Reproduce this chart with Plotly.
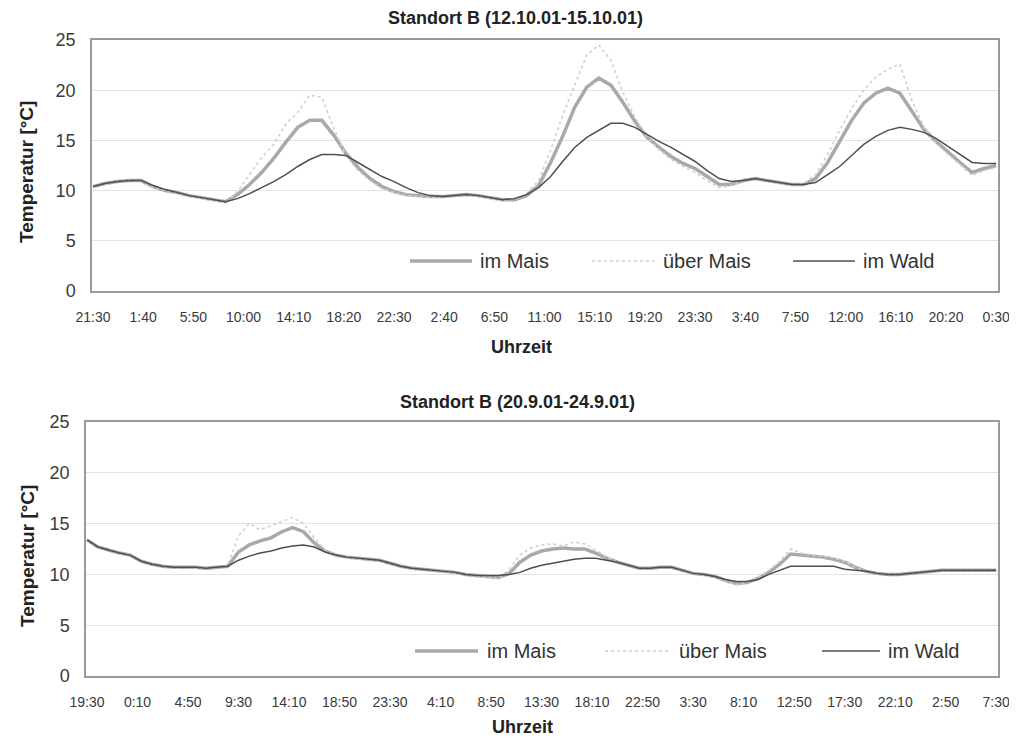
import plotly.graph_objects as go

# ---------------- data ----------------
# sampling: one value per hour (minutes since start of record)
top_minutes = [h * 60 for h in range(76)]
bot_minutes = [h * 60 for h in range(85)]

top_tick_minutes = [i * 250 for i in range(19)]
top_tick_labels = ["21:30", "1:40", "5:50", "10:00", "14:10", "18:20", "22:30", "2:40",
                   "6:50", "11:00", "15:10", "19:20", "23:30", "3:40", "7:50", "12:00",
                   "16:10", "20:20", "0:30"]
bot_tick_minutes = [i * 280 for i in range(19)]
bot_tick_labels = ["19:30", "0:10", "4:50", "9:30", "14:10", "18:50", "23:30", "4:10",
                   "8:50", "13:30", "18:10", "22:50", "3:30", "8:10", "12:50", "17:30",
                   "22:10", "2:50", "7:30"]

series_names = ["im Mais", "über Mais", "im Wald"]

top_im_mais = [10.4, 10.7, 10.9, 11.0, 11.0, 10.4, 10.0, 9.8, 9.5, 9.3,
               9.1, 8.9, 9.6, 10.6, 11.8, 13.2, 14.8, 16.3, 17.0, 17.0,
               15.5, 13.7, 12.3, 11.2, 10.4, 9.9, 9.6, 9.5, 9.4, 9.4,
               9.5, 9.6, 9.5, 9.3, 9.1, 9.1, 9.5, 10.5, 12.8, 15.4,
               18.3, 20.3, 21.2, 20.5, 18.8, 16.9, 15.3, 14.3, 13.4, 12.7,
               12.2, 11.4, 10.6, 10.6, 11.0, 11.2, 11.0, 10.8, 10.6, 10.6,
               11.2, 12.8, 14.9, 17.0, 18.7, 19.7, 20.2, 19.7, 17.9, 16.1,
               14.9, 13.8, 12.8, 11.8, 12.2, 12.5]
top_ueber_mais = [10.3, 10.6, 11.0, 11.1, 10.9, 10.3, 10.0, 9.7, 9.4, 9.2,
                  9.0, 8.8, 9.9, 11.6, 13.3, 14.6, 16.6, 17.8, 19.5, 19.3,
                  16.2, 13.5, 12.0, 11.0, 10.2, 9.8, 9.5, 9.4, 9.3, 9.4,
                  9.5, 9.5, 9.4, 9.2, 9.0, 9.1, 9.7, 11.0, 14.0, 17.5,
                  20.6, 23.5, 24.5, 23.0, 19.8, 17.3, 15.3, 14.1, 13.1, 12.4,
                  11.8, 11.0, 10.3, 10.5, 11.0, 11.3, 11.0, 10.7, 10.5, 10.7,
                  11.6, 13.6, 16.0, 18.2, 20.0, 21.3, 22.1, 22.6, 19.0, 16.3,
                  14.7, 13.6, 12.6, 11.5, 12.0, 12.3]
top_im_wald = [10.4, 10.7, 10.9, 11.0, 11.0, 10.5, 10.1, 9.8, 9.5, 9.3,
               9.1, 8.9, 9.2, 9.7, 10.3, 10.9, 11.6, 12.4, 13.1, 13.6,
               13.6, 13.5, 12.8, 12.1, 11.4, 10.9, 10.3, 9.8, 9.5, 9.4,
               9.5, 9.6, 9.5, 9.3, 9.1, 9.2, 9.6, 10.3, 11.4, 12.9,
               14.3, 15.3, 16.0, 16.7, 16.7, 16.3, 15.6, 14.9, 14.3, 13.6,
               12.9, 12.0, 11.2, 10.9, 11.0, 11.2, 11.0, 10.8, 10.6, 10.6,
               10.8, 11.6, 12.4, 13.5, 14.6, 15.4, 16.0, 16.3, 16.1, 15.8,
               15.2, 14.4, 13.6, 12.8, 12.7, 12.7]

bot_im_mais = [13.4, 12.7, 12.4, 12.1, 11.9, 11.3, 11.0, 10.8, 10.7, 10.7,
               10.7, 10.6, 10.7, 10.8, 12.2, 12.9, 13.3, 13.6, 14.2, 14.6,
               14.2, 13.1, 12.3, 11.9, 11.7, 11.6, 11.5, 11.4, 11.1, 10.8,
               10.6, 10.5, 10.4, 10.3, 10.2, 10.0, 9.9, 9.8, 9.7, 10.1,
               11.2, 11.9, 12.3, 12.5, 12.6, 12.5, 12.5, 12.1, 11.6, 11.2,
               10.9, 10.6, 10.6, 10.7, 10.7, 10.4, 10.1, 10.0, 9.8, 9.4,
               9.1, 9.2, 9.6, 10.2, 11.0, 12.0, 11.9, 11.8, 11.7, 11.5,
               11.2, 10.7, 10.3, 10.1, 10.0, 10.0, 10.1, 10.2, 10.3, 10.4,
               10.4, 10.4, 10.4, 10.4, 10.4]
bot_ueber_mais = [13.3, 12.6, 12.5, 12.0, 12.0, 11.2, 10.9, 10.8, 10.6, 10.7,
                  10.6, 10.6, 10.6, 10.9, 13.8, 15.0, 14.4, 14.8, 15.2, 15.6,
                  15.0, 13.6, 12.4, 11.9, 11.7, 11.5, 11.5, 11.3, 11.0, 10.8,
                  10.5, 10.5, 10.3, 10.3, 10.1, 10.0, 9.8, 9.7, 9.6, 10.5,
                  11.9, 12.6, 12.9, 13.0, 12.8, 13.2, 13.0, 12.4, 11.7, 11.2,
                  10.9, 10.5, 10.6, 10.7, 10.7, 10.3, 10.1, 9.9, 9.7, 9.3,
                  9.0, 9.2, 9.7, 10.4, 11.3, 12.5, 12.1, 11.9, 11.8, 11.6,
                  11.3, 10.7, 10.3, 10.1, 10.0, 10.0, 10.1, 10.2, 10.3, 10.4,
                  10.4, 10.4, 10.5, 10.4, 10.4]
bot_im_wald = [13.4, 12.7, 12.4, 12.1, 11.9, 11.3, 11.0, 10.8, 10.7, 10.7,
               10.7, 10.6, 10.7, 10.8, 11.4, 11.8, 12.1, 12.3, 12.6, 12.8,
               12.9, 12.7, 12.2, 11.9, 11.7, 11.6, 11.5, 11.4, 11.1, 10.8,
               10.6, 10.5, 10.4, 10.3, 10.2, 10.0, 9.9, 9.9, 9.9, 10.0,
               10.2, 10.6, 10.9, 11.1, 11.3, 11.5, 11.6, 11.6, 11.4, 11.2,
               10.9, 10.6, 10.6, 10.7, 10.7, 10.4, 10.1, 10.0, 9.8, 9.5,
               9.3, 9.3, 9.5, 10.0, 10.4, 10.8, 10.8, 10.8, 10.8, 10.8,
               10.5, 10.4, 10.3, 10.1, 10.0, 10.0, 10.1, 10.2, 10.3, 10.4,
               10.4, 10.4, 10.4, 10.4, 10.4]

y_ticks = [0, 5, 10, 15, 20, 25]

# ---------------- styling ----------------
PAGE_OFF = 8            # default body margin of the html page
W, H = 1017 - PAGE_OFF, 742 - PAGE_OFF
FONT = "Liberation Sans, Arial, sans-serif"
styles = {
    "im Mais": dict(color="#a9a9a9", width=3.5, dash="solid"),
    "über Mais": dict(color="#cfcfcf", width=1.6, dash="dot"),
    "im Wald": dict(color="#4f4f4f", width=1.5, dash="solid"),
}

def px(x):
    return (x - PAGE_OFF) / W

def py(y):
    return 1 - (y - PAGE_OFF) / H

fig = go.Figure()

top_series = [top_im_mais, top_ueber_mais, top_im_wald]
bot_series = [bot_im_mais, bot_ueber_mais, bot_im_wald]

for name, vals in zip(series_names, top_series):
    fig.add_trace(go.Scatter(x=top_minutes, y=vals, mode="lines", name=name,
                             line=styles[name], xaxis="x", yaxis="y", showlegend=False))
for name, vals in zip(series_names, bot_series):
    fig.add_trace(go.Scatter(x=bot_minutes, y=vals, mode="lines", name=name,
                             line=styles[name], xaxis="x2", yaxis="y2", showlegend=False))

common_x = dict(showgrid=False, zeroline=False, ticks="", showline=True, linecolor="#9a9a9a",
                linewidth=1.5, mirror=True, tickfont=dict(family=FONT, size=14, color="#3a3a3a"),
                ticklabelstandoff=12, fixedrange=True, automargin=False)
common_y = dict(range=[0, 25], tickvals=y_ticks, showgrid=True, gridcolor="#e2e2e2", gridwidth=1.3,
                zeroline=False, ticks="", showline=True, linecolor="#9a9a9a", linewidth=1.5,
                mirror=True, tickfont=dict(family=FONT, size=18, color="#3a3a3a"),
                ticklabelstandoff=11, fixedrange=True, automargin=False)

fig.update_layout(
    width=W, height=H,
    margin=dict(l=0, r=0, t=0, b=0, autoexpand=False),
    paper_bgcolor="white", plot_bgcolor="white",
    showlegend=False,
    xaxis=dict(common_x, domain=[px(92), px(998)], range=[-5, 4509],
               tickvals=top_tick_minutes, ticktext=top_tick_labels, anchor="y"),
    yaxis=dict(common_y, domain=[py(291), py(40)], anchor="x"),
    xaxis2=dict(common_x, domain=[px(86), px(998)], range=[-5.5, 5050],
                tickvals=bot_tick_minutes, ticktext=bot_tick_labels, anchor="y2"),
    yaxis2=dict(common_y, domain=[py(676), py(422)], anchor="x2"),
)

annotations = []
shapes = []

def label(x, y, text, size, bold=False, angle=0, xanchor="center", color="#222"):
    t = f"<b>{text}</b>" if bold else text
    annotations.append(dict(x=px(x), y=py(y), xref="paper", yref="paper", text=t,
                            showarrow=False, textangle=angle, xanchor=xanchor, yanchor="middle",
                            font=dict(family=FONT, size=size, color=color)))

# titles
label(515, 18, "Standort B (12.10.01-15.10.01)", 18, bold=True)
label(518, 402, "Standort B (20.9.01-24.9.01)", 18, bold=True)
label(27, 172, "Temperatur [°C]", 19, bold=True, angle=-90)
label(27, 556, "Temperatur [°C]", 19, bold=True, angle=-90)
label(521, 347, "Uhrzeit", 18, bold=True)
label(522, 727, "Uhrzeit", 18, bold=True)

# manual legends (inside each plot)
legend_rows = [
    (261, [(410, 472, 478), (592, 655, 661), (793, 855, 861)]),
    (651, [(415, 478, 485), (605, 670, 677), (822, 880, 886)]),
]
for ly, entries in legend_rows:
    for name, (x0, x1, xt) in zip(series_names, entries):
        st = styles[name]
        shapes.append(dict(type="line", xref="paper", yref="paper",
                           x0=px(x0), x1=px(x1), y0=py(ly), y1=py(ly),
                           line=dict(color=st["color"], width=st["width"], dash=st["dash"])))
        label(xt, ly, name, 20, xanchor="left", color="#333")

fig.update_layout(annotations=annotations, shapes=shapes)

fig.write_html("out.html")
